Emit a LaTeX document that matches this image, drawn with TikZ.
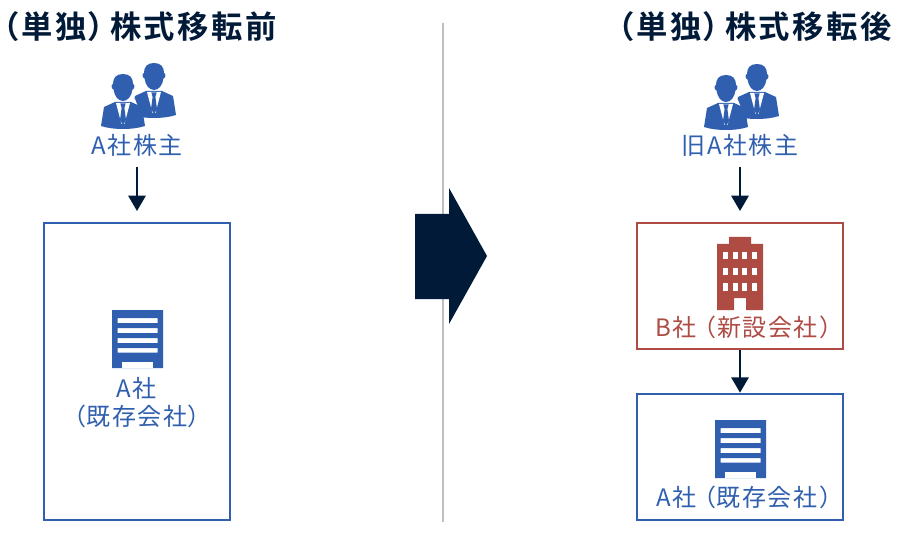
\documentclass[tikz,border=0pt]{standalone}
\usepackage{fontspec}
\newfontfamily\cjkr[LetterSpace=6,RawFeature={+palt}]{Noto Sans CJK JP}
\newfontfamily\cjkb[LetterSpace=8,RawFeature={+palt}]{Noto Sans CJK JP Bold}
\usetikzlibrary{arrows.meta}
\definecolor{navy}{HTML}{001A38}
\definecolor{blu}{HTML}{2F5FAE}
\definecolor{redb}{HTML}{AE4C44}
\newcommand{\opn}{\hspace{5.5pt}（}
\newcommand{\cls}{\hspace{2pt}）}
\tikzset{
 x=0.75pt,y=-0.75pt,
 title/.style={font=\cjkb\fontsize{23.5}{24}\selectfont,text=navy,inner sep=0pt,anchor=east},
 lab/.style={font=\cjkr\fontsize{18}{21}\selectfont,text=blu,inner sep=0pt,align=center},
 labred/.style={lab,text=redb},
 bluebox/.style={draw=blu,line width=1.5pt,fill=white},
 redbox/.style={draw=redb,line width=1.5pt,fill=white},
 conn/.style={draw=navy,line width=1.5pt,-{Triangle[width=13pt,length=11.5pt]}},
 person/.pic={
  % head, origin at the top centre of the head
  \fill[blu] (0,0) .. controls (7,0) and (10,4) .. (10,10)
     .. controls (12,10) and (12,15) .. (9.5,15.5)
     .. controls (8.5,22) and (5,27) .. (0,27)
     .. controls (-5,27) and (-8.5,22) .. (-9.5,15.5)
     .. controls (-12,15) and (-12,10) .. (-10,10)
     .. controls (-10,4) and (-7,0) .. (0,0) -- cycle;
  % jacket
  \fill[blu] (-8,28) -- (-19,33) -- (-22,52)
     .. controls (-10,56) and (10,56) .. (22,52) -- (19,33) -- (8,28) -- cycle;
  % shirt and tie
  \fill[white] (-7,29) -- (7,29) -- (1.5,50) -- (-1.5,50) -- cycle;
  \fill[blu] (-2.6,29.5) -- (2.6,29.5) -- (1.4,34) -- (3,46) -- (0,51) -- (-3,46) -- (-1.4,34) -- cycle;
 },
 bldg/.pic={
  \fill[blu,even odd rule] (0,0) rectangle (51,58)
   (5.5,8) rectangle (45.5,13) (5.5,18) rectangle (45.5,23)
   (5.5,28) rectangle (45.5,33) (5.5,38) rectangle (45.5,42.5);
  \fill[white] (10,52) rectangle (40.5,58);
 },
 tower/.pic={
  \fill[redb] (0,7) -- (12,7) -- (12,0) -- (34,0) -- (34,7) -- (46,7) -- (46,73) -- (29,73) -- (29,61) -- (17,61) -- (17,73) -- (0,73) -- cycle;
  \foreach \yy in {15,31,46}{\foreach \xx in {6,16,25,35}{\fill[white] (\xx,\yy) rectangle ++(5,7.5);}}
 },
}
\begin{document}
\begin{tikzpicture}
\useasboundingbox (0,0) rectangle (898,534);
\node[title] (t1) at (277,27) {（単独）\hspace{4pt}株式移転前};
\node[title] (t2) at (892,27) {（単独）\hspace{4pt}株式移転後};
\coordinate (divt) at (443,23);
\coordinate (divb) at (443,522);
\draw[draw=black!25,line width=1.1pt] (divt) -- (divb);
\fill[navy] (415,214) -- (449,214) -- (449,188) -- (487,256) -- (449,324) -- (449,299) -- (415,299) -- cycle;
% left
\pic at (154,63) {person};
\fill[white] (100,99) -- (135,99) -- (147,130) -- (100,130) -- cycle;
\pic at (123,74) {person};
\node[lab] (ls) at (137,145) {A社株主};
\node[bluebox,minimum width=139.5pt,minimum height=222.5pt,inner sep=0pt] (ba) at (137,371.5) {};
\pic at (112,310) {bldg};
\node[lab] (la) at (137,403) {A社\\（既存会社）};
\coordinate (s1) at (137,167);
\coordinate (e1) at (137,211);
\draw[conn] (s1) -- (e1);
% right
\pic at (757,64) {person};
\fill[white] (703,100) -- (738,100) -- (750,130) -- (703,130) -- cycle;
\pic at (726,75) {person};
\node[lab] (rs) at (740,145) {旧A社株主};
\node[redbox,minimum width=155pt,minimum height=94.5pt,inner sep=0pt] (bb) at (740,286) {};
\pic at (717,237) {tower};
\node[labred] (lb) at (744,327) {B社\opn 新設会社\cls};
\node[bluebox,minimum width=155pt,minimum height=95pt,inner sep=0pt] (bc) at (740,457) {};
\pic at (715,420) {bldg};
\node[lab] (lc) at (744,497) {A社\opn 既存会社\cls};
\coordinate (s2) at (740,167);
\coordinate (e2) at (740,211);
\draw[conn] (s2) -- (e2);
\draw[conn] (bb.south) -- (bc.north);
\end{tikzpicture}
\end{document}
